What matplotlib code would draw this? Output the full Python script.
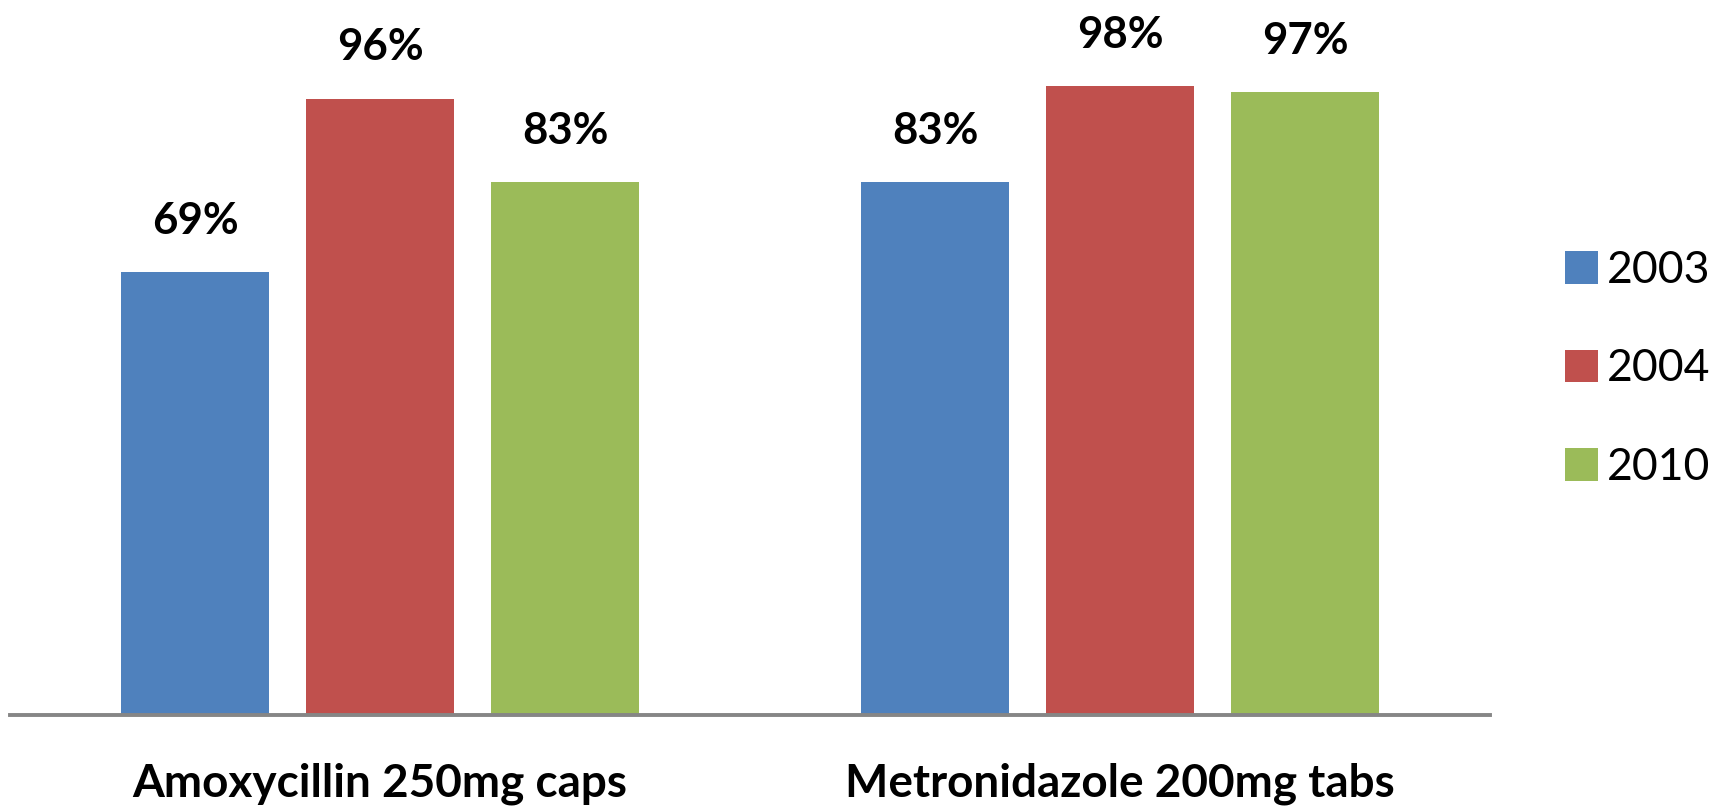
import numpy as np
import matplotlib
matplotlib.use("Agg")
import matplotlib.pyplot as plt
from matplotlib.patches import Patch

# ---------- DATA ----------
drugs = ["Amoxycillin 250mg caps", "Metronidazole 200mg tabs"]
years = ["2003", "2004", "2010"]
pct_2003 = [69, 83]
pct_2004 = [96, 98]
pct_2010 = [83, 97]

colors = ["#4F81BD", "#C0504D", "#9BBB59"]

plt.rcParams["font.family"] = ["Lato", "DejaVu Sans"]

fig = plt.figure(figsize=(17.25, 8.09), dpi=100)
ax = fig.add_axes([10 / 1725, 1 - 715 / 809, (1490 - 10) / 1725, 706 / 809])

x = np.arange(len(drugs))
width = 0.2
offsets = [-0.25, 0, 0.25]
series = [pct_2003, pct_2004, pct_2010]

for off, vals, col in zip(offsets, series, colors):
    bars = ax.bar(x + off, vals, width=width, color=col, zorder=2)
    for b, v in zip(bars, vals):
        ax.annotate(f"{v}%", (b.get_x() + b.get_width() / 2, v),
                    xytext=(0, 37), textcoords="offset points",
                    ha="center", va="center", fontsize=31.5, fontweight="bold")

ax.set_xlim(-0.5, 1.5)
ax.set_ylim(0, 110)
ax.set_yticks([])
ax.set_xticks(x)
ax.set_xticklabels(drugs, fontsize=33, fontweight="bold")
ax.tick_params(axis="x", length=0, pad=34)

for s in ["top", "right", "left"]:
    ax.spines[s].set_visible(False)
ax.spines["bottom"].set_color("#868686")
ax.spines["bottom"].set_linewidth(2.8)

handles = [Patch(facecolor=c, label=y) for c, y in zip(colors, years)]
fig.legend(handles=handles, loc="center left", bbox_to_anchor=(1565 / 1725, 1 - 369 / 809),
           frameon=False, fontsize=32, handlelength=0.75, handleheight=0.75,
           handletextpad=0.2, labelspacing=1.3, borderpad=0, borderaxespad=0)

fig.savefig("out.png", dpi=100)
